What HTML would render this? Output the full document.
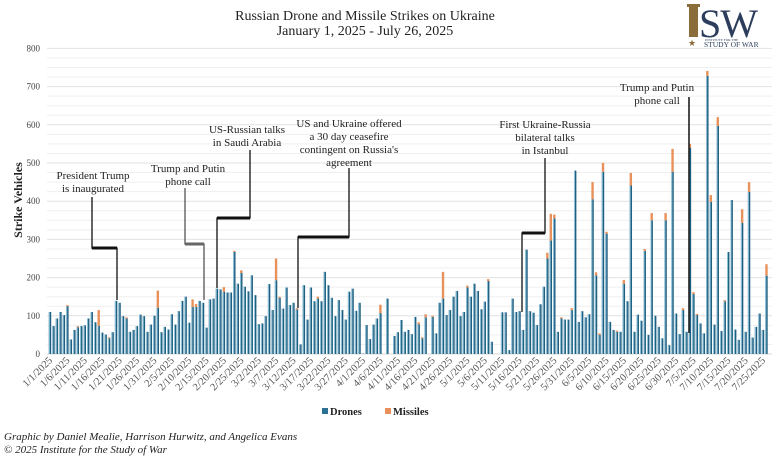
<!DOCTYPE html>
<html><head><meta charset="utf-8">
<style>
html,body{margin:0;padding:0;background:#fff;}
svg{display:block;font-family:"Liberation Serif",serif;}
</style></head>
<body>
<svg id="s" width="784" height="460" viewBox="0 0 784 460" xmlns="http://www.w3.org/2000/svg">
<rect width="784" height="460" fill="#fff"/>
<g id="grid"></g>
<g id="bars"></g>
<g id="ylab" font-size="9" fill="#444" text-anchor="end"></g>
<g id="xlab" font-size="10.5" fill="#555" text-anchor="end"></g>
<text x="365" y="20" font-size="14" text-anchor="middle" fill="#222">Russian Drone and Missile Strikes on Ukraine</text>
<text x="365" y="35" font-size="14" text-anchor="middle" fill="#222">January 1, 2025 - July 26, 2025</text>
<!-- logo -->
<rect x="689" y="6" width="9" height="31" fill="#8a6d3b"/>
<rect x="687" y="4" width="13" height="3" fill="#8a6d3b"/>
<text x="699" y="37" font-size="40" fill="#2c3e5c" letter-spacing="-1">SW</text>
<text x="705" y="41" font-size="3.5" fill="#2c3e5c">INSTITUTE FOR THE</text>
<text x="688" y="46" font-size="9" fill="#8a6d3b">★</text>
<text x="704" y="47" font-size="7.5" fill="#2c3e5c">STUDY OF WAR</text>
<text transform="translate(22,200) rotate(-90)" font-size="12" font-weight="bold" text-anchor="middle" fill="#222">Strike Vehicles</text>
<g font-size="11" text-anchor="middle" fill="#222">
<text x="93" y="179">President Trump</text><text x="93" y="192">is inaugurated</text>
<text x="188" y="172">Trump and Putin</text><text x="188" y="185">phone call</text>
<text x="247" y="133">US-Russian talks</text><text x="247" y="146">in Saudi Arabia</text>
<text x="349" y="127">US and Ukraine offered</text><text x="349" y="140">a 30 day ceasefire</text><text x="349" y="153">contingent on Russia's</text><text x="349" y="166">agreement</text>
<text x="545" y="128">First Ukraine-Russia</text><text x="545" y="141">bilateral talks</text><text x="545" y="154">in Istanbul</text>
<text x="657" y="91">Trump and Putin</text><text x="657" y="104">phone call</text>
</g>
<g fill="none" stroke="#111">
<polyline points="92,197 92,248 117,248 117,300" stroke-width="1.3"/>
<line x1="92" y1="248" x2="117" y2="248" stroke-width="3"/>
<polyline points="185,188 185,244 204,244 204,300" stroke="#555" stroke-width="1.3"/>
<line x1="185" y1="244" x2="204" y2="244" stroke="#666" stroke-width="3"/>
<polyline points="250,150 250,218 217,218 217,288" stroke-width="1.3"/>
<line x1="217" y1="218" x2="250" y2="218" stroke-width="3"/>
<polyline points="349,168 349,237 298,237 298,308" stroke-width="1.3"/>
<line x1="298" y1="237" x2="349" y2="237" stroke-width="3"/>
<polyline points="545,158 545,233 522,233 522,312" stroke-width="1.3"/>
<line x1="522" y1="233" x2="545" y2="233" stroke-width="3"/>
<line x1="689" y1="97" x2="689" y2="333" stroke-width="1.5"/>
</g>
<rect x="322" y="408" width="6" height="6" fill="#2d7192"/>
<text x="330" y="415" font-size="10.5" font-weight="bold" fill="#222">Drones</text>
<rect x="385" y="408" width="6" height="6" fill="#e8915a"/>
<text x="393" y="415" font-size="10.5" font-weight="bold" fill="#222">Missiles</text>
<text x="4" y="440" font-size="11" font-style="italic" fill="#222">Graphic by Daniel Mealie, Harrison Hurwitz, and Angelica Evans</text>
<text x="4" y="453" font-size="11" font-style="italic" fill="#222">© 2025 Institute for the Study of War</text>
</svg>
<script>
var d={0:[110],1:[73],2:[93],3:[110],4:[102],5:[125,3],6:[38],7:[63],8:[70,3],9:[73],10:[75],11:[93],12:[110],13:[83],14:[74,41],15:[56],16:[51],17:[41,3],18:[57],19:[139],20:[134],21:[99],22:[93,3],23:[58],24:[63],25:[73],26:[103],27:[99],28:[58],29:[77],30:[100],31:[121,45],32:[57],33:[71],34:[64],35:[104],36:[77],37:[112],38:[139],39:[150],40:[82],41:[123,20],42:[123,8],43:[139],44:[134],45:[69],46:[143],47:[145],48:[171],49:[169],50:[163,12],51:[161],52:[161],53:[267,3],54:[184],55:[212,7],56:[176],57:[164],58:[206],59:[154],60:[78],61:[80],62:[99],63:[183],64:[115],65:[193,57],66:[147,3],67:[119],68:[174],69:[128],70:[134],71:[117,3],72:[25],73:[180],74:[90],75:[174],76:[138],77:[145,5],78:[138],79:[215],80:[180],81:[147],82:[99],83:[141],84:[115],85:[90],86:[163],87:[171],88:[113],89:[134],90:[1],91:[76],92:[39],93:[77],94:[93],95:[107,22],96:[0],97:[145],98:[0],99:[47],100:[57],101:[89],102:[58],103:[63],104:[52],105:[97],106:[78,5],107:[41,3],108:[96,8],109:[0],110:[97,3],111:[54],112:[134],113:[145,70],114:[102],115:[115],116:[150],117:[165],118:[99],119:[110],120:[174,5],121:[150],122:[184],123:[165],124:[117],125:[137],126:[191,5],127:[32],128:[0],129:[0],130:[109],131:[109],132:[10],133:[145],134:[110],135:[112],136:[63],137:[273],138:[112],139:[108],140:[76],141:[130],142:[176],143:[250,15],144:[297,70],145:[355,10],146:[58],147:[93,3],148:[90],149:[90],150:[115,5],151:[480],152:[84],153:[112],154:[96],155:[104],156:[405,45],157:[206,8],158:[50,4],159:[477,23],160:[315,5],161:[84],162:[63],163:[58,3],164:[58],165:[184,10],166:[138],167:[441,33],168:[58],169:[103],170:[87],171:[270,5],172:[50],173:[350,19],174:[100],175:[71],176:[41],177:[350,19],178:[23],179:[477,60],180:[106],181:[52],182:[115,5],183:[58],184:[540,10],185:[157,5],186:[102,3],187:[80],188:[54],189:[728,13],190:[398,18],191:[77],192:[597,23],193:[60],194:[138,3],195:[267],196:[403],197:[64],198:[37],199:[343,36],200:[58],201:[424,26],202:[43],203:[71],204:[106],205:[63],206:[205,30]};
var ns="http://www.w3.org/2000/svg";
function el(p,t,a,txt){var e=document.createElementNS(ns,t);for(var k in a)e.setAttribute(k,a[k]);if(txt!=null)e.textContent=txt;document.getElementById(p).appendChild(e);}
var y0=354,k=0.382,x0=50,dx=3.478;
for(var v=25;v<=800;v+=25){var y=y0-v*k;el("grid","line",{x1:47,x2:772,y1:y,y2:y,stroke:v%100==0?"#e2e2e2":"#efefef","stroke-width":1});}
el("grid","line",{x1:47,x2:772,y1:y0,y2:y0,stroke:"#d8d8d8","stroke-width":1});
for(var v=0;v<=800;v+=100)el("ylab","text",{x:40,y:y0-v*k+3},String(v));
var ml=[31,28,31,30,31,30,31];
for(var i=0;i<=206;i++){var v=d[i]||[0];var x=x0+i*dx-1.2;var hd=v[0]*k;
if(hd>0){el("bars","rect",{x:x,y:y0-hd,width:2.4,height:hd,fill:"#1f5f80"});el("bars","rect",{x:x,y:y0-hd,width:1,height:hd,fill:"#8fc3da"});}
if(v[1]){var hm=v[1]*k;el("bars","rect",{x:x,y:y0-hd-hm,width:2.4,height:hm,fill:"#e8915a"});}
if(i%5==0){var m=0,dd=i;while(dd>=ml[m]){dd-=ml[m];m++;}
var lx=x0+i*dx+3,ly=361;el("xlab","text",{x:lx,y:ly,transform:"rotate(-45 "+lx+" "+ly+")"},(m+1)+"/"+(dd+1)+"/2025");}}
</script>
</body></html>
